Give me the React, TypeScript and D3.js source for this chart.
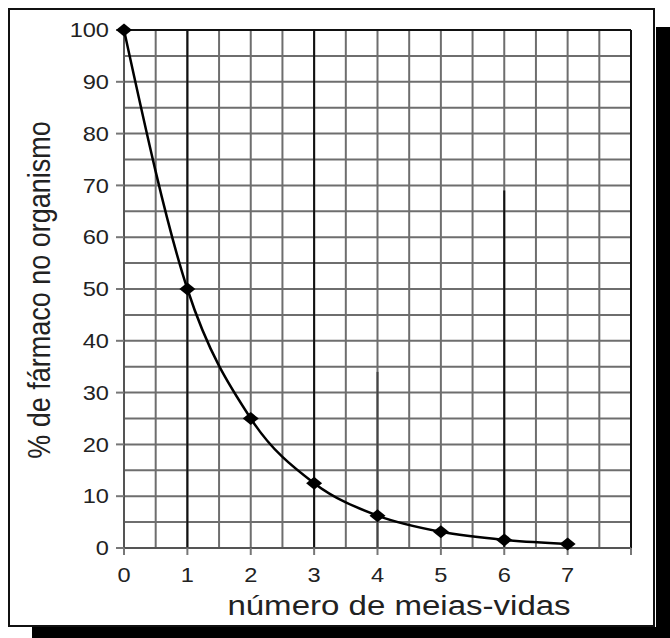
import React from "react";
import * as d3 from "d3";

// Half-life elimination: percentage of drug remaining after each half-life
const halfLives = [0, 1, 2, 3, 4, 5, 6, 7];
const percentRemaining = [100, 50, 25, 12.5, 6.25, 3.125, 1.5625, 0.78];

const xTickLabels = [0, 1, 2, 3, 4, 5, 6, 7];
const yTickLabels = [0, 10, 20, 30, 40, 50, 60, 70, 80, 90, 100];

// Darker reference lines drawn over the grid: [x, top value]
const darkLinesX = [1, 3, 6];
const darkLinesTop = [100, 100, 69];
const midLinesX = [4];
const midLinesTop = [34];

const W = 670;
const H = 638;
const plot = { left: 124, top: 30, right: 631, bottom: 548 };
const font = "'Liberation Sans', Arial, sans-serif";
const stretch = 1.18; // glyphs are drawn slightly wide

// wide diamond marker
const MW = 8;
const MH = 6.5;
const markerPath = `M${-MW},0L0,${-MH}L${MW},0L0,${MH}Z`;

export default function App() {
  const x = d3.scaleLinear().domain([0, 8]).range([plot.left, plot.right]);
  const y = d3.scaleLinear().domain([0, 100]).range([plot.bottom, plot.top]);

  const vGrid = d3.range(0, 8.01, 0.5);
  const hGrid = d3.range(0, 100.01, 5);
  const xTickMarks = d3.range(0, 9, 1);

  const pts: [number, number][] = halfLives.map((h, i) => [h, percentRemaining[i]]);
  const line = d3
    .line<[number, number]>()
    .x((d) => x(d[0]))
    .y((d) => y(d[1]))
    .curve(d3.curveMonotoneX);

  return (
    <svg
      width={W}
      height={H}
      style={{ position: "absolute", left: 0, top: 0, background: "#fff" }}
    >
      {/* drop shadow */}
      <rect x={656} y={27} width={W - 656} height={H - 27} fill="#000" />
      <rect x={32} y={627} width={W - 32} height={H - 627} fill="#000" />
      {/* outer frame */}
      <rect x={9} y={9} width={645} height={617} fill="#fff" stroke="#111" strokeWidth={2} />

      {/* grid */}
      <g stroke="#6e6e6e" strokeWidth={2}>
        {vGrid.map((v) => (
          <line key={"v" + v} x1={x(v)} x2={x(v)} y1={y(0)} y2={y(100)} />
        ))}
        {hGrid.map((v) => (
          <line key={"h" + v} x1={x(0)} x2={x(8)} y1={y(v)} y2={y(v)} />
        ))}
      </g>
      <g stroke="#444" strokeWidth={2}>
        {midLinesX.map((v, i) => (
          <line key={"m" + v} x1={x(v)} x2={x(v)} y1={y(0)} y2={y(midLinesTop[i])} />
        ))}
      </g>
      <g stroke="#111" strokeWidth={2}>
        {darkLinesX.map((v, i) => (
          <line key={"d" + v} x1={x(v)} x2={x(v)} y1={y(0)} y2={y(darkLinesTop[i])} />
        ))}
      </g>

      {/* plot border */}
      <line x1={x(0)} x2={x(8)} y1={y(100)} y2={y(100)} stroke="#111" strokeWidth={2} />
      <line x1={x(8)} x2={x(8)} y1={y(0)} y2={y(100)} stroke="#111" strokeWidth={2} />
      <line x1={x(0)} x2={x(8)} y1={y(0)} y2={y(0)} stroke="#555" strokeWidth={2} />
      <line x1={x(0)} x2={x(0)} y1={y(0)} y2={y(100)} stroke="#555" strokeWidth={2} />

      {/* axis ticks */}
      <g stroke="#777" strokeWidth={2}>
        {yTickLabels.map((v) => (
          <line key={"yt" + v} x1={x(0) - 8} x2={x(0)} y1={y(v)} y2={y(v)} />
        ))}
        {xTickMarks.map((v) => (
          <line key={"xt" + v} x1={x(v)} x2={x(v)} y1={y(0)} y2={y(0) + 7} />
        ))}
      </g>

      {/* tick labels */}
      <g fontFamily={font} fontSize={20} fill="#222">
        {yTickLabels.map((v) => (
          <text
            key={"yl" + v}
            transform={`translate(${x(0) - 15},${y(v)}) scale(${stretch},1)`}
            dy="0.36em"
            textAnchor="end"
          >
            {v}
          </text>
        ))}
        {xTickLabels.map((v) => (
          <text
            key={"xl" + v}
            transform={`translate(${x(v)},${y(0) + 34}) scale(${stretch},1)`}
            textAnchor="middle"
          >
            {v}
          </text>
        ))}
      </g>

      {/* axis titles */}
      <text
        transform={`translate(399,615) scale(${stretch},1)`}
        textAnchor="middle"
        fontFamily={font}
        fontSize={28}
        fill="#222"
      >
        número de meias-vidas
      </text>
      <text
        transform={`translate(50,290) rotate(-90) scale(1,${stretch})`}
        textAnchor="middle"
        fontFamily={font}
        fontSize={27}
        fill="#222"
      >
        % de fármaco no organismo
      </text>

      {/* decay curve */}
      <path d={line(pts) as string} fill="none" stroke="#000" strokeWidth={2.5} />
      {pts.map((p, i) => (
        <path
          key={"pt" + i}
          d={markerPath}
          transform={`translate(${x(p[0])},${y(p[1])})`}
          fill="#000"
        />
      ))}
    </svg>
  );
}
